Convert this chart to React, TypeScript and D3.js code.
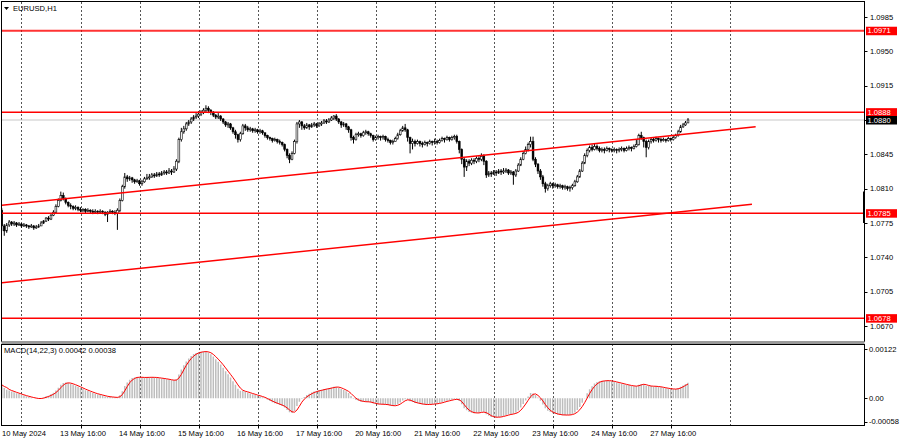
import React from "react";
import * as d3 from "d3";

// ---------- DATA (EURUSD H1, prices in pips above 1.0700) ----------
const BASE_PRICE = 1.07;
const PIP = 0.0001;
const firstOpenPips = 88;
const closePips = [
  72,67,73,76,74,75,73,74,72,73,72,71,72,70,71,72,
  75,77,80,79,83,86,92,98,103,100,96,93,92,90,91,89,88,89,87,88,87,86,87,86,
  87,86,84,86,87,86,85,88,98,112,122,120,121,119,117,118,115,117,120,121,
  122,124,123,125,124,126,127,126,128,127,130,138,160,168,171,176,178,181,183,184,186,188,190,192,190,188,185,183,
  184,181,178,175,176,172,168,165,160,166,174,172,170,171,169,170,168,169,167,164,162,161,159,160,
  158,157,155,150,144,140,146,158,176,178,174,172,175,173,175,176,174,176,177,179,178,180,182,184,
  181,178,175,176,173,170,162,160,165,166,164,167,168,166,164,160,162,163,162,163,160,159,157,158,
  161,165,169,172,170,162,156,158,156,158,156,155,157,156,158,157,158,157,159,161,160,162,160,162,
  163,158,150,140,132,138,136,139,138,141,140,143,138,124,126,125,127,126,128,127,128,129,126,127,
  124,128,134,140,146,150,155,158,140,135,128,122,115,110,113,115,113,114,112,113,111,112,110,111,
  113,117,122,128,136,144,149,152,150,153,151,149,150,149,151,150,149,150,149,150,151,149,151,152,
  151,153,155,164,162,158,152,158,160,159,161,160,159,160,159,161,160,162,164,168,173,175,177,180
];
const highPips = [
  90,74,75,78,77,77,76,76,75,75,74,73,74,73,73,74,
  77,78,81,82,84,88,94,100,107,106,101,97,95,93,93,92,91,90,90,90,89,89,89,88,
  89,88,87,87,89,88,88,90,100,114,126,124,123,122,120,120,119,119,122,125,
  125,126,126,127,127,128,129,129,131,130,133,140,162,172,174,178,180,183,185,187,189,190,192,195,194,191,189,186,
  187,185,182,179,178,177,173,170,166,168,176,176,174,173,172,172,171,171,170,167,165,163,162,162,
  161,160,158,156,151,146,148,160,178,180,179,176,177,176,177,178,177,178,179,181,181,182,184,185,
  186,182,179,178,177,174,171,164,167,168,167,169,170,169,167,165,164,165,164,165,164,162,160,160,
  163,167,171,174,176,171,163,161,160,160,159,158,159,158,160,159,161,160,161,163,162,164,163,164,
  165,165,159,151,142,140,140,141,141,143,143,146,145,139,128,128,129,129,130,130,131,131,130,129,
  128,130,136,142,148,153,157,163,163,142,136,130,124,117,115,117,116,116,115,115,114,114,113,113,
  115,119,124,130,138,146,151,154,155,156,155,153,152,152,153,152,151,152,151,152,153,152,153,154,
  153,155,160,166,168,163,160,160,162,162,163,162,162,162,161,163,162,164,166,170,175,177,179,182
];
const lowPips = [
  67,62,65,71,72,72,71,72,70,71,70,69,70,68,69,70,
  72,74,76,77,78,82,85,91,97,98,94,91,89,88,88,87,86,86,85,86,85,84,85,84,
  85,84,82,76,85,84,83,68,86,97,110,117,118,116,115,116,113,113,116,119,
  119,121,121,122,122,123,124,124,125,124,126,128,136,158,166,169,174,176,179,181,182,184,186,188,187,185,183,181,
  181,179,176,173,172,170,166,161,157,158,165,169,168,168,167,167,166,166,165,162,160,159,157,158,
  156,155,153,148,141,136,139,145,156,172,170,170,171,170,172,173,172,173,174,176,176,177,179,180,
  179,176,172,173,170,167,159,156,159,163,162,163,165,164,162,158,159,160,159,160,158,157,155,155,
  158,160,164,168,168,158,146,150,153,155,153,152,154,153,155,154,155,155,156,158,157,159,158,159,
  160,156,146,135,122,128,133,134,135,136,137,138,134,121,122,122,124,123,125,124,125,126,124,124,
  114,122,127,133,139,145,148,152,138,132,125,119,112,106,108,111,110,111,110,110,109,109,108,107,
  109,112,116,121,127,135,142,147,148,149,149,147,147,146,148,147,147,147,146,147,148,147,148,149,
  148,150,152,154,160,152,142,150,156,157,158,157,157,158,157,158,158,159,161,163,167,172,174,177
];

const symbolTitle = "EURUSD,H1";
const priceTicks = [1.0985, 1.095, 1.0915, 1.088, 1.0845, 1.081, 1.0775, 1.074, 1.0705, 1.067];
const levelPrices = [1.0971, 1.0888, 1.0785, 1.0678];
const bidPrice = 1.088;
const edgeBarRange = [1.0807, 1.0775];
// channel lines: [bar index, price]
const channelUpper: [number, number][] = [[0, 1.0793], [306.5, 1.0873]];
const channelLower: [number, number][] = [[0, 1.0714], [305, 1.0794]];
const gridBars = [8, 32, 56, 80, 104, 128, 152, 176, 200, 224, 248, 272, 296];
const timeLabels = ["10 May 2024", "13 May 16:00", "14 May 16:00", "15 May 16:00", "16 May 16:00", "17 May 16:00",
  "20 May 16:00", "21 May 16:00", "22 May 16:00", "23 May 16:00", "24 May 16:00", "27 May 16:00"];
const timeLabelBars = [0, 32, 56, 80, 104, 128, 152, 176, 200, 224, 248, 272];
const macdFast = 14, macdSlow = 22, macdSignal = 3;
const macdHeaderValues = ["0.00042", "0.00038"];
// estimated EMA state carried in from bars before the visible window
const macdSeedFast = 1.0779;
const macdSeedSlow = 1.0775;
const macdTicks = [0.00122, 0, -0.00058];

// ---------- LAYOUT ----------
const W = 900, H = 441;
const LEFT = 2, RIGHT = 864.5;
const MAIN_TOP = 2, MAIN_BOTTOM = 341;
const MACD_TOP = 344, MACD_BOTTOM = 425.5;
const FONT = "'Liberation Sans', Arial, sans-serif";
const FS = 7.6;

export default function App() {
  const n = closePips.length;
  const x = d3.scaleLinear().domain([0, n - 1]).range([1.8, 688]);
  const y = d3.scaleLinear().domain([1.067, 1.0985]).range([326, 17]);
  const ym = d3.scaleLinear().domain([-0.00058, 0.00122]).range([421.7, 349]);

  const bars = closePips.map((c, i) => {
    const o = BASE_PRICE + (i === 0 ? firstOpenPips : closePips[i - 1]) * PIP;
    const cl = BASE_PRICE + c * PIP;
    const h = Math.max(BASE_PRICE + highPips[i] * PIP, o, cl);
    const l = Math.min(BASE_PRICE + lowPips[i] * PIP, o, cl);
    return { i, o, c: cl, h, l };
  });

  // MACD(14,22,3) computed from closes
  const kF = 2 / (macdFast + 1), kS = 2 / (macdSlow + 1);
  let ef = macdSeedFast, es = macdSeedSlow;
  const main: number[] = [];
  bars.forEach((b) => {
    ef = ef + kF * (b.c - ef);
    es = es + kS * (b.c - es);
    main.push(ef - es);
  });
  const signal = main.map((_, i) => {
    const s = main.slice(Math.max(0, i - macdSignal + 1), i + 1);
    return d3.mean(s) as number;
  });

  const signalLine = d3.line<number>().x((_, i) => x(i)).y((v) => ym(v)).curve(d3.curveLinear);
  const chanLine = d3.line<[number, number]>().x((d) => x(d[0])).y((d) => y(d[1]));

  const px = (v: number) => Math.round(v) + 0.5;

  return (
    <svg width={W} height={H} style={{ position: "absolute", left: 0, top: 0, background: "#fff" }}
      fontFamily={FONT} fontSize={FS}>
      <defs>
        <clipPath id="mainClip"><rect x={LEFT} y={MAIN_TOP} width={RIGHT - LEFT} height={MAIN_BOTTOM - MAIN_TOP} /></clipPath>
        <clipPath id="macdClip"><rect x={LEFT} y={MACD_TOP} width={RIGHT - LEFT} height={MACD_BOTTOM - MACD_TOP} /></clipPath>
      </defs>
      <rect width={W} height={H} fill="#fff" />

      {/* vertical grid */}
      {gridBars.map((g) => (
        <g key={"g" + g}>
          <line x1={px(x(g))} x2={px(x(g))} y1={MAIN_TOP} y2={MAIN_BOTTOM} stroke="#555" strokeDasharray="2,2" strokeWidth={1} shapeRendering="crispEdges" />
          <line x1={px(x(g))} x2={px(x(g))} y1={MACD_TOP} y2={MACD_BOTTOM} stroke="#555" strokeDasharray="2,2" strokeWidth={1} shapeRendering="crispEdges" />
        </g>
      ))}

      <g clipPath="url(#mainClip)">
        {/* bid line */}
        <line x1={LEFT} x2={RIGHT} y1={y(bidPrice)} y2={y(bidPrice)} stroke="#c8c8c8" strokeWidth={1} />
        {/* candles */}
        {bars.map((b) => {
          const cx = x(b.i);
          const top = y(Math.max(b.o, b.c));
          const bot = y(Math.min(b.o, b.c));
          const bull = b.c >= b.o;
          return (
            <g key={b.i}>
              <line x1={cx} x2={cx} y1={y(b.h)} y2={y(b.l)} stroke="#000" strokeWidth={1} />
              <rect x={cx - 0.9} y={top} width={1.8} height={Math.max(0.8, bot - top)}
                fill={bull ? "#fff" : "#000"} stroke="#000" strokeWidth={0.6} />
            </g>
          );
        })}
        {/* horizontal levels */}
        {levelPrices.map((p, k) => (
          <line key={"lv" + p} x1={LEFT} x2={RIGHT} y1={y(p)} y2={y(p)} stroke="#ff0000"
            strokeWidth={k === 0 ? 2 : 1.5} strokeOpacity={k === 0 ? 0.8 : 1} />
        ))}
        {/* channel */}
        <path d={chanLine(channelUpper) || ""} stroke="#ff0000" strokeWidth={1.5} fill="none" />
        <path d={chanLine(channelLower) || ""} stroke="#ff0000" strokeWidth={1.5} fill="none" />
      </g>

      {/* edge marker */}
      <line x1={RIGHT - 0.5} x2={RIGHT - 0.5} y1={y(edgeBarRange[0])} y2={y(edgeBarRange[1])} stroke="#000" strokeWidth={2} />

      {/* MACD */}
      <g clipPath="url(#macdClip)">
        {main.map((v, i) => (
          <line key={"h" + i} x1={x(i)} x2={x(i)} y1={ym(0)} y2={ym(v)} stroke="#bdbdbd" strokeWidth={1.5} />
        ))}
        <path d={signalLine(signal) || ""} stroke="#ff0000" strokeWidth={1} fill="none" />
      </g>

      {/* frames */}
      <rect x={1.5} y={1.5} width={RIGHT - 1.5} height={MAIN_BOTTOM - 1.5} fill="none" stroke="#000" strokeWidth={1} shapeRendering="crispEdges" />
      <rect x={1.5} y={MAIN_BOTTOM} width={RIGHT - 1.5} height={3} fill="#9a9a9a" />
      <rect x={1.5} y={MACD_TOP + 0.5} width={RIGHT - 1.5} height={MACD_BOTTOM - MACD_TOP - 0.5} fill="none" stroke="#000" strokeWidth={1} shapeRendering="crispEdges" />

      {/* title */}
      <path d="M4,7 L9,7 L6.5,10 Z" fill="#000" />
      <text x={13} y={11} fill="#000">{symbolTitle}</text>
      <text x={4} y={353} fill="#000">{`MACD(${macdFast},${macdSlow},${macdSignal}) ${macdHeaderValues[0]} ${macdHeaderValues[1]}`}</text>

      {/* price axis */}
      {priceTicks.map((p) => (
        <g key={"t" + p}>
          <line x1={RIGHT} x2={RIGHT + 3} y1={Math.round(y(p)) + 0.5} y2={Math.round(y(p)) + 0.5} stroke="#000" />
          {Math.abs(p - bidPrice) > 1e-6 && (
            <text x={870} y={y(p)} dy="0.35em" fill="#000">{p.toFixed(4)}</text>
          )}
        </g>
      ))}
      {levelPrices.map((p) => (
        <g key={"ll" + p}>
          <rect x={866} y={y(p) - 4} width={31} height={8.5} fill="#ff0000" />
          <text x={867.5} y={y(p)} dy="0.35em" fill="#fff">{p.toFixed(4)}</text>
        </g>
      ))}
      <rect x={866} y={y(bidPrice) - 4} width={31} height={8.5} fill="#000" />
      <text x={867.5} y={y(bidPrice)} dy="0.35em" fill="#fff">{bidPrice.toFixed(4)}</text>

      {/* macd axis */}
      {macdTicks.map((v) => (
        <g key={"m" + v}>
          <line x1={RIGHT} x2={RIGHT + 3} y1={Math.round(ym(v)) + 0.5} y2={Math.round(ym(v)) + 0.5} stroke="#000" />
          <text x={869} y={ym(v)} dy="0.35em" fill="#000">{v === 0 ? "0.00" : v.toFixed(5)}</text>
        </g>
      ))}

      {/* time axis */}
      {timeLabels.map((t, k) => {
        const b = timeLabelBars[k];
        const first = k === 0;
        return (
          <g key={"tl" + k}>
            {!first && <line x1={px(x(b))} x2={px(x(b))} y1={MACD_BOTTOM} y2={MACD_BOTTOM + 3} stroke="#000" />}
            <text x={first ? 2 : x(b) + 2.5} y={435.5} textAnchor={first ? "start" : "middle"} fill="#000">{t}</text>
          </g>
        );
      })}
    </svg>
  );
}
